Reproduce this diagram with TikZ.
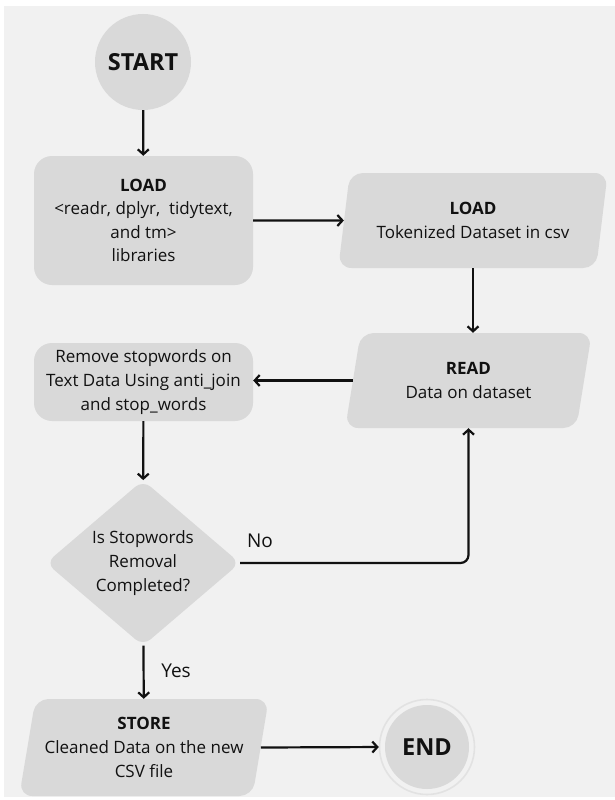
\documentclass[tikz,border=0pt]{standalone}
\usepackage{fontspec}
\setmainfont{Open Sans}
\usetikzlibrary{shapes.geometric,arrows.meta}
\definecolor{pagebg}{HTML}{F1F1F1}
\definecolor{shapefill}{HTML}{D9D9D9}
\definecolor{ringcol}{HTML}{E2E2E2}
\definecolor{inkcol}{HTML}{111111}
\tikzset{
  body/.style={font=\fontsize{17}{23.6}\selectfont, text=inkcol, align=center, inner sep=0pt},
  blob/.style={fill=shapefill, draw=none},
  roundbox/.style={blob, body, rectangle, rounded corners=18pt},
  iobox/.style={blob, body, trapezium, trapezium left angle=76, trapezium right angle=104,
    trapezium stretches=true, rounded corners=13pt},
  terminal/.style={blob, circle, inner sep=0pt, text=inkcol, font=\fontsize{23.5}{27}\selectfont\bfseries},
  decision/.style={blob, body, diamond, rounded corners=10pt},
  flow/.style={draw=inkcol, line width=2.2pt, -{Straight Barb[length=5pt,width=11pt]}},
  tag/.style={font=\fontsize{19}{22}\selectfont, text=inkcol, inner sep=0pt},
}
\begin{document}
\begin{tikzpicture}[x=1pt, y=-1pt]
  \useasboundingbox (0,0) rectangle (615,800);
  \fill[white] (0,0) rectangle (615,800);
  \fill[pagebg] (4,6) rectangle (615,797);

  % process steps
  \node[terminal, minimum size=96pt] (start) at (143,62) {START};
  \node[roundbox, minimum width=219pt, minimum height=129pt] (libs) at (143.5,220.5)
    {\textbf{LOAD}\\<readr, dplyr,\ \ tidytext,\\and tm>\\libraries};
  \node[iobox, minimum width=270pt, minimum height=95pt] (tokens) at (473,220.5)
    {\textbf{LOAD}\\Tokenized Dataset in csv};
  \node[iobox, minimum width=247pt, minimum height=95pt] (read) at (468.5,380.5)
    {\textbf{READ}\\Data on dataset};
  \node[roundbox, minimum width=219pt, minimum height=78pt] (remove) at (143.5,382)
    {Remove stopwords on\\Text Data Using anti\_join\\and stop\_words};
  \node[decision, minimum width=194pt, minimum height=140pt] (check) at (143,563)
    {Is Stopwords\\Removal\\Completed?};
  \node[iobox, minimum width=250pt, minimum height=97pt] (store) at (144,747.5)
    {\textbf{STORE}\\Cleaned Data on the new\\CSV file};
  \node[terminal, minimum size=84pt] (finish) at (427,747) {END};
  \draw[ringcol, line width=1.6pt] (finish.center) circle[radius=47.5pt];

  % connectors
  \draw[flow] (start) -- (libs);
  \draw[flow] (libs.east) -- (tokens.west);
  \draw[flow] (tokens.south) -- (tokens.south |- read.north);
  \draw[flow] (read.west) -- (read.west -| remove.east);
  \draw[flow] (remove) -- (check);
  \draw[flow, rounded corners=8pt] (check.east) -| (read.south);
  \draw[flow] (check) -- (store);
  \draw[flow, shorten >=6pt] (store.east) -- (finish.west);

  % branch labels
  \node[tag] (nolabel) at (260,541) {No};
  \node[tag] (yeslabel) at (176,671) {Yes};
\end{tikzpicture}
\end{document}
